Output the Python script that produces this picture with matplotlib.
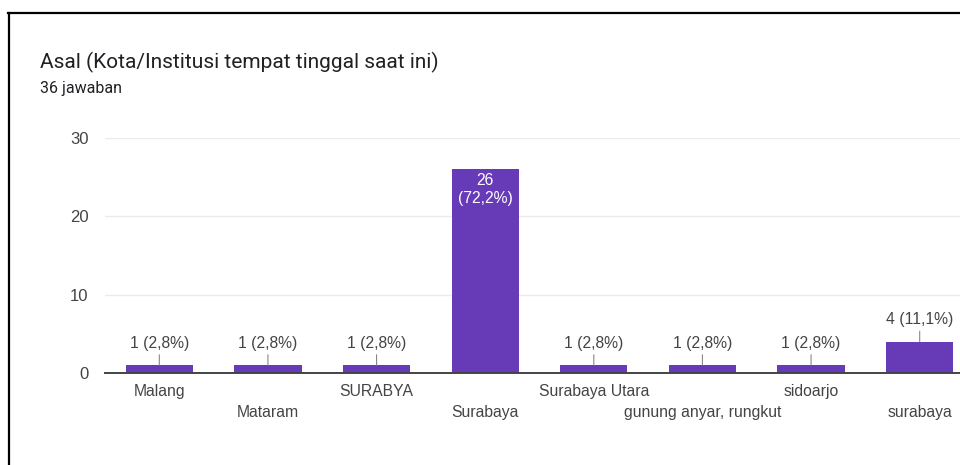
import matplotlib.pyplot as plt
from matplotlib.lines import Line2D

plt.rcParams['font.family'] = ['Liberation Sans', 'DejaVu Sans']

# responses per city
categories = ["Malang", "Mataram", "SURABYA", "Surabaya", "Surabaya Utara",
              "gunung anyar, rungkut", "sidoarjo", "surabaya"]
counts = [1, 1, 1, 26, 1, 1, 1, 4]
total = 36
y_ticks = [0, 10, 20, 30]

bar_color = '#673ab7'
text_color = '#444444'
fs = 11.3

fig = plt.figure(figsize=(9.6, 4.65), dpi=100)
# axes runs off the right edge like the screenshot
ax = fig.add_axes([105 / 960, 1 - 373 / 465, 869 / 960, 235 / 465])

x = list(range(len(categories)))
ax.bar(x, counts, width=0.62, color=bar_color, zorder=3)
ax.set_xlim(-0.5, len(categories) - 0.5)
ax.set_ylim(0, 30)

ax.set_yticks(y_ticks)
ax.yaxis.grid(True, color='#ebebeb', lw=1, zorder=0)
ax.tick_params(axis='y', length=0, pad=12, labelsize=12, labelcolor=text_color)
for s in ['top', 'right', 'left']:
    ax.spines[s].set_visible(False)
ax.spines['bottom'].set_color('#444444')
ax.spines['bottom'].set_linewidth(1.4)
ax.spines['bottom'].set_zorder(4)

# staggered category labels
ax.set_xticks(x[0::2], categories[0::2])
ax.set_xticks(x[1::2], categories[1::2], minor=True)
ax.tick_params(axis='x', which='both', length=0, labelsize=fs, labelcolor=text_color)
ax.tick_params(axis='x', which='major', pad=8)
ax.tick_params(axis='x', which='minor', pad=23)

for xi, v in zip(x, counts):
    pct = f"{v / total * 100:.1f}".replace('.', ',')
    if v > 10:
        ax.text(xi, v - 0.45, f"{v}\n({pct}%)", ha='center', va='top', color='white',
                fontsize=fs, linespacing=1.25, zorder=5)
    else:
        ax.annotate(f"{v} ({pct}%)", xy=(xi, v), xytext=(0, 10.5), textcoords='offset points',
                    ha='center', va='bottom', fontsize=fs, color=text_color,
                    arrowprops=dict(arrowstyle='-', color='#888888', lw=0.8,
                                    shrinkA=1, shrinkB=0))

fig.text(40 / 960, 1 - 62 / 465, "Asal (Kota/Institusi tempat tinggal saat ini)",
         fontsize=15, color='#202124', va='center', family=['Roboto', 'DejaVu Sans'])
fig.text(40 / 960, 1 - 88 / 465, "36 jawaban", fontsize=11.5, color='#202124', va='center',
         family=['Roboto', 'DejaVu Sans'])

# screenshot frame
fig.add_artist(Line2D([8 / 960, 1], [1 - 13 / 465, 1 - 13 / 465], color='black', lw=1.6))
fig.add_artist(Line2D([9 / 960, 9 / 960], [0, 1 - 13 / 465], color='black', lw=1.6))

fig.savefig('out.png', dpi=100)
